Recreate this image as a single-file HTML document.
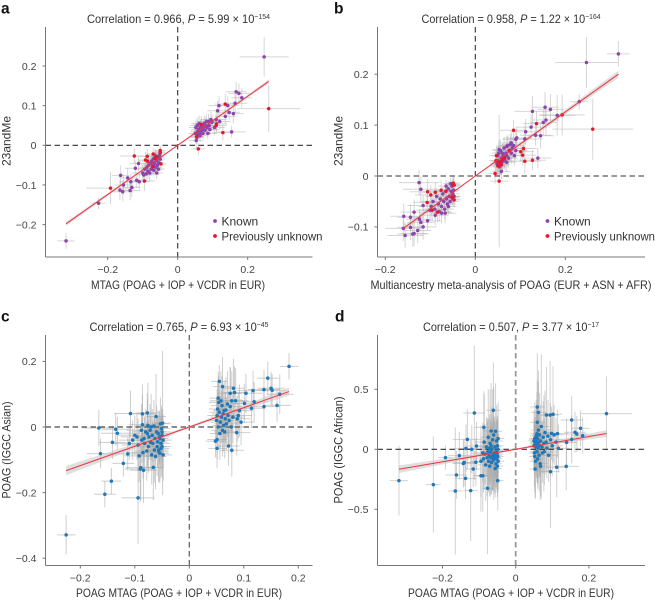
<!DOCTYPE html>
<html lang="en">
<head>
<meta charset="utf-8">
<title>Effect size correlation panels</title>
<style>
html,body{margin:0;padding:0;background:#fff}
svg{display:block;font-family:"Liberation Sans",sans-serif}
text{fill:#333}
</style>
</head>
<body>
<svg id="figure" width="655" height="600" viewBox="0 0 655 600" xmlns="http://www.w3.org/2000/svg">
  <rect width="655" height="600" fill="#fff"/>
  <g id="plots"></g>

  <text x="1" y="13.5" font-size="15.5" font-weight="bold" style="fill:#111">a</text>
  <text x="334" y="13.5" font-size="15.5" font-weight="bold" style="fill:#111">b</text>
  <text x="1" y="321.5" font-size="15.5" font-weight="bold" style="fill:#111">c</text>
  <text x="335" y="321.5" font-size="15.5" font-weight="bold" style="fill:#111">d</text>

  <text x="178.5" y="23" font-size="12" text-anchor="middle" textLength="183" lengthAdjust="spacingAndGlyphs">Correlation = 0.966, <tspan font-style="italic">P</tspan> = 5.99 × 10<tspan dy="-4" font-size="7.5">−154</tspan></text>
  <text x="511" y="23" font-size="12" text-anchor="middle" textLength="179" lengthAdjust="spacingAndGlyphs">Correlation = 0.958, <tspan font-style="italic">P</tspan> = 1.22 × 10<tspan dy="-4" font-size="7.5">−164</tspan></text>
  <text x="179" y="331" font-size="12" text-anchor="middle" textLength="179" lengthAdjust="spacingAndGlyphs">Correlation = 0.765, <tspan font-style="italic">P</tspan> = 6.93 × 10<tspan dy="-4" font-size="7.5">−45</tspan></text>
  <text x="511" y="331" font-size="12" text-anchor="middle" textLength="176" lengthAdjust="spacingAndGlyphs">Correlation = 0.507, <tspan font-style="italic">P</tspan> = 3.77 × 10<tspan dy="-4" font-size="7.5">−17</tspan></text>

  <text x="178" y="289" font-size="12" text-anchor="middle" textLength="174" lengthAdjust="spacingAndGlyphs">MTAG (POAG + IOP + VCDR in EUR)</text>
  <text x="511" y="289" font-size="12" text-anchor="middle" textLength="281" lengthAdjust="spacingAndGlyphs">Multiancestry meta-analysis of POAG (EUR + ASN + AFR)</text>
  <text x="179" y="597" font-size="12" text-anchor="middle" textLength="206" lengthAdjust="spacingAndGlyphs">POAG MTAG (POAG + IOP + VCDR in EUR)</text>
  <text x="511" y="597" font-size="12" text-anchor="middle" textLength="206" lengthAdjust="spacingAndGlyphs">POAG MTAG (POAG + IOP + VCDR in EUR)</text>

  <text transform="translate(10.5 141) rotate(-90)" font-size="12" text-anchor="middle">23andMe</text>
  <text transform="translate(342.5 141) rotate(-90)" font-size="12" text-anchor="middle">23andMe</text>
  <text transform="translate(10.5 450) rotate(-90)" font-size="12" text-anchor="middle" textLength="97" lengthAdjust="spacingAndGlyphs">POAG (IGGC Asian)</text>
  <text transform="translate(342.5 450) rotate(-90)" font-size="12" text-anchor="middle" textLength="107" lengthAdjust="spacingAndGlyphs">POAG (IGGC African)</text>

  <g>
    <circle cx="215" cy="221" r="1.9" fill="#8e44ad"/>
    <text x="221.5" y="225.5" font-size="12">Known</text>
    <circle cx="215" cy="236" r="1.9" fill="#e8182c"/>
    <text x="221.5" y="240.5" font-size="12" textLength="101" lengthAdjust="spacingAndGlyphs">Previously unknown</text>
  </g>
  <g>
    <circle cx="547.5" cy="221" r="1.9" fill="#8e44ad"/>
    <text x="554" y="225.5" font-size="12">Known</text>
    <circle cx="547.5" cy="236" r="1.9" fill="#e8182c"/>
    <text x="554" y="240.5" font-size="12" textLength="101" lengthAdjust="spacingAndGlyphs">Previously unknown</text>
  </g>
</svg>

<script>
// ---------- Panel a ----------
const aKnownX = [
.247,-.319,-.226,.143,.114,.118,.159,.136,.167,.175,
.183,.164,.154,.05,.052,.053,.055,.056,.057,.058,
.06,.061,.062,.064,.065,.067,.068,.07,.072,.074,
.076,.078,.08,.082,.084,.086,.088,.09,.092,.095,
.098,.105,.11,.12,.147,
-.163,-.143,-.165,-.157,-.155,-.136,-.131,-.134,-.117,-.11,
-.121,-.112,-.1,-.097,-.094,-.09,-.088,-.085,-.083,-.08,
-.078,-.076,-.074,-.072,-.07,-.068,-.066,-.064,-.062,-.06,
-.058,-.056,-.054,-.052,-.05,-.05,-.055,-.06,-.065,-.07];
const aKnownY = [
.223,-.241,-.146,.1,.087,.1,.08,.073,.135,.131,
.12,.106,.034,.03,.045,.012,.02,.05,.035,.028,
.04,.055,.03,.024,.045,.036,.05,.04,.03,.046,
.055,.038,.05,.06,.045,.03,.06,.05,.04,.065,
.058,.045,.065,.06,.083,
-.076,-.082,-.113,-.117,-.1,-.114,-.106,-.092,-.088,-.092,
-.058,-.046,-.07,-.075,-.06,-.072,-.055,-.065,-.05,-.07,
-.045,-.06,-.04,-.052,-.035,-.063,-.045,-.028,-.055,-.038,
-.05,-.03,-.044,-.025,-.035,-.02,-.06,-.07,-.025,-.05];
const aKnownXErr = [
.07,.025,.02,.03,.03,.03,.03,.03,.03,.03,
.03,.035,.04,.02,.02,.02,.02,.02,.02,.02,
.022,.022,.022,.022,.022,.022,.024,.024,.024,.024,
.024,.024,.024,.026,.026,.026,.026,.026,.026,.028,
.028,.03,.03,.03,.03,
.025,.025,.025,.03,.025,.03,.025,.03,.03,.03,
.03,.025,.03,.025,.025,.025,.022,.022,.022,.022,
.022,.02,.02,.02,.02,.02,.02,.02,.018,.018,
.018,.018,.015,.015,.015,.015,.018,.018,.018,.02];
const aKnownYErr = [
.05,.02,.015,.025,.025,.025,.025,.02,.025,.025,
.025,.025,.015,.02,.02,.02,.015,.02,.015,.015,
.02,.02,.015,.015,.02,.015,.02,.015,.015,.02,
.02,.015,.02,.02,.015,.015,.02,.02,.015,.02,
.02,.02,.025,.02,.02,
.025,.025,.025,.025,.025,.025,.025,.02,.02,.02,
.02,.02,.02,.02,.015,.02,.015,.02,.015,.02,
.015,.015,.015,.015,.015,.015,.015,.015,.015,.015,
.015,.015,.015,.015,.015,.012,.015,.015,.015,.015];
const aUnknownX = [.26,-.192,-.124,.129,.136,.111,.11,.059,.067,.054,
-.095,-.087,-.092,-.086,-.07,-.05,-.05,-.06,-.048,-.065,-.071];
const aUnknownY = [.0925,-.108,-.027,.032,.104,.054,.05,-.009,.053,.022,
-.09,-.028,-.037,-.04,-.022,-.013,-.017,-.029,-.047,-.033,-.054];
const aUnknownXErr = [.09,.07,.04,.03,.03,.03,.03,.02,.022,.02,
.03,.025,.025,.025,.02,.015,.015,.018,.015,.02,.02];
const aUnknownYErr = [.06,.04,.02,.02,.025,.02,.02,.015,.02,.015,
.025,.02,.02,.02,.015,.012,.012,.015,.015,.015,.015];
const aFitX = [-.319,0,.26];
const aFitY = [-.198,0,.161];
const aFitBand = [.005,.001,.005];
const aXTicks = [-.2,0,.2];
const aYTicks = [-.2,-.1,0,.1,.2];

// ---------- Panel b ----------
const bKnownX = [
.318,.247,.231,.182,.127,.155,.167,.157,.151,.124,
.112,.092,.09,.11,.134,.145,.139,.058,.07,.08,
.05,.052,.054,.056,.058,.06,.062,.064,.066,.068,
.07,.072,.074,.076,.078,.08,.082,.085,.087,.09,
.048,.05,.053,.056,.06,.062,.066,.07,
-.125,-.121,-.159,-.144,-.136,-.144,-.156,-.16,-.139,-.136,
-.128,-.124,-.121,-.116,-.106,-.116,-.101,-.089,-.075,-.067,
-.098,-.094,-.09,-.086,-.082,-.08,-.078,-.075,-.072,-.07,
-.068,-.066,-.064,-.062,-.06,-.058,-.056,-.054,-.052,-.05,
-.05,-.055,-.06,-.065,-.048,-.047];
const bKnownY = [
.24,.223,.146,.119,.127,.135,.131,.11,.105,.096,
.087,.075,.072,.073,.08,.079,.035,.009,.058,.065,
.03,.045,.018,.05,.035,.028,.04,.055,.03,.045,
.04,.06,.035,.05,.062,.045,.055,.06,.04,.05,
.025,.04,.052,.022,.045,.033,.038,.027,
-.013,-.026,-.079,-.081,-.071,-.101,-.117,-.103,-.114,-.113,
-.107,-.085,-.091,-.1,-.088,-.058,-.067,-.077,-.073,-.073,
-.06,-.05,-.065,-.04,-.055,-.07,-.045,-.06,-.035,-.05,
-.065,-.03,-.045,-.055,-.025,-.04,-.05,-.03,-.02,-.035,
-.045,-.015,-.06,-.02,-.028,-.04];
const bKnownXErr = [
.025,.07,.02,.04,.04,.03,.03,.03,.03,.035,
.035,.03,.03,.04,.035,.03,.03,.02,.02,.022,
.015,.015,.015,.016,.016,.016,.018,.018,.018,.018,
.02,.02,.02,.02,.02,.022,.022,.022,.022,.025,
.015,.015,.015,.016,.018,.018,.02,.02,
.045,.04,.03,.03,.03,.03,.04,.04,.035,.03,
.03,.03,.03,.03,.03,.035,.03,.03,.025,.025,
.028,.028,.028,.025,.025,.025,.022,.022,.022,.022,
.02,.02,.02,.02,.018,.018,.018,.016,.016,.015,
.015,.016,.018,.018,.014,.014];
const bKnownYErr = [
.025,.05,.015,.04,.03,.03,.03,.03,.025,.025,
.025,.02,.02,.025,.02,.025,.02,.015,.02,.02,
.02,.02,.02,.02,.018,.018,.02,.02,.018,.02,
.02,.02,.018,.02,.02,.02,.02,.02,.02,.02,
.025,.02,.02,.02,.02,.02,.02,.02,
.025,.025,.025,.025,.025,.025,.025,.025,.025,.025,
.025,.02,.02,.025,.02,.02,.02,.02,.02,.02,
.02,.015,.02,.015,.02,.02,.015,.02,.015,.015,
.02,.015,.015,.015,.015,.015,.015,.015,.012,.015,
.015,.012,.015,.012,.012,.015];
const bUnknownX = [.261,.193,.136,.085,.127,.11,.107,.101,.105,.053,
.044,.046,.05,.052,.055,.058,.06,.047,.065,.075,
-.106,-.099,-.089,-.076,-.107,-.096,-.084,-.049,-.047,-.05,
-.047,-.05,-.052,-.065];
const bUnknownY = [.092,.12,.103,.09,.031,.029,.054,.048,.041,-.01,
.005,.03,.02,.025,.028,.022,.032,.04,.035,.05,
-.031,-.037,-.032,-.028,-.052,-.067,-.071,-.014,-.018,-.04,
-.047,-.017,-.042,-.03];
const bUnknownXErr = [.09,.05,.03,.03,.03,.035,.03,.03,.03,.02,
.015,.016,.016,.016,.018,.018,.018,.016,.02,.022,
.04,.035,.03,.03,.03,.03,.03,.016,.016,.016,
.016,.016,.016,.02];
const bUnknownYErr = [.06,.04,.025,.02,.02,.025,.02,.02,.02,.13,
.02,.02,.02,.02,.02,.02,.02,.02,.02,.02,
.025,.02,.02,.02,.02,.02,.02,.015,.015,.015,
.015,.015,.015,.015];
const bFitX = [-.16,0,.318];
const bFitY = [-.103,0,.2];
const bFitBand = [.005,.001,.007];
const bXTicks = [-.2,0,.2];
const bYTicks = [-.1,0,.1,.2];

// ---------- Panel c ----------
const cX = [
-.226,-.094,-.155,-.143,-.121,-.163,-.166,-.141,-.135,-.132,-.108,-.086,-.077,-.113,-.11,-.104,
-.1,-.096,-.094,-.092,-.09,-.089,-.088,-.087,-.086,-.085,
-.084,-.083,-.082,-.08,-.078,-.077,-.076,-.075,-.074,-.072,
-.071,-.07,-.069,-.068,-.067,-.066,-.065,-.064,-.063,-.062,
-.061,-.06,-.059,-.058,-.057,-.056,-.055,-.054,-.053,-.052,
-.051,-.05,-.05,-.049,-.048,-.048,-.05,-.052,-.054,-.056,
.183,.144,.15,.152,.137,.117,.104,.137,.161,.166,
.119,.114,.101,.055,.061,.081,.075,.083,.053,.078,
.048,.051,.051,.078,.072,.087,.05,.051,.052,.053,
.054,.055,.056,.057,.058,.059,.06,.061,.062,.063,
.064,.065,.066,.067,.068,.07,.071,.073,.075,.077,
.08,.085,.088,.09,.092,.095];
const cY = [
-.329,-.216,-.205,-.165,-.111,-.081,-.003,-.047,-.007,-.019,.041,.04,.043,-.082,-.05,-.04,
-.025,-.03,-.055,-.088,-.128,-.124,-.01,-.04,.007,-.078,
-.132,-.035,-.05,-.015,-.073,-.02,.005,-.06,-.03,-.01,
-.047,.0,-.085,-.025,-.05,-.123,.003,-.07,-.035,-.09,
.032,-.015,-.06,-.045,-.02,-.07,-.03,-.08,.01,-.05,
-.005,-.025,-.06,.012,-.085,-.04,-.015,-.065,-.035,-.075,
.185,.149,.118,.112,.114,.111,.103,.062,.066,.1,
.077,.057,.072,.139,.123,.118,.103,.105,.088,.08,
-.043,-.038,-.065,-.071,-.058,-.017,.02,.035,.055,.0,
.075,.045,-.02,.015,.08,.03,.065,-.01,.04,.005,
.05,-.015,.025,.052,.01,.07,.035,.02,.062,.0,
.03,.08,.025,.035,.05,.015];
const cXErr = [
.017,.03,.02,.018,.02,.025,.03,.025,.025,.03,.03,.025,.02,.025,.03,.025,
.03,.03,.03,.028,.028,.028,.028,.025,.025,.025,
.025,.025,.025,.025,.022,.022,.022,.022,.022,.022,
.02,.02,.02,.02,.02,.02,.02,.02,.02,.02,
.018,.018,.018,.018,.018,.018,.018,.016,.016,.016,
.016,.016,.016,.016,.016,.016,.016,.016,.016,.018,
.017,.02,.025,.025,.03,.03,.03,.03,.025,.025,
.025,.025,.025,.015,.018,.02,.02,.02,.016,.022,
.018,.018,.016,.022,.02,.025,.018,.018,.016,.018,
.018,.018,.018,.018,.02,.02,.02,.02,.02,.02,
.02,.02,.02,.022,.022,.022,.022,.022,.022,.022,
.022,.024,.024,.025,.025,.025];
const cYErr = [
.06,.14,.04,.04,.04,.045,.055,.05,.05,.05,.07,.09,.06,.05,.05,.06,
.06,.07,.08,.08,.1,.1,.08,.07,.09,.08,
.1,.07,.08,.07,.09,.1,.13,.08,.07,.08,
.08,.1,.09,.08,.07,.1,.08,.1,.07,.1,
.13,.08,.09,.08,.07,.1,.08,.09,.08,.08,
.07,.08,.09,.22,.08,.08,.07,.09,.08,.09,
.04,.05,.05,.05,.06,.06,.06,.06,.05,.06,
.06,.06,.06,.05,.09,.09,.08,.08,.08,.09,
.05,.06,.06,.08,.06,.07,.07,.08,.08,.07,
.08,.07,.08,.08,.09,.08,.09,.08,.09,.08,
.09,.08,.08,.1,.08,.1,.09,.08,.12,.08,
.08,.1,.07,.07,.08,.07];
const cFitX = [-.226,0,.183];
const cFitY = [-.133,0,.108];
const cFitBand = [.014,.003,.012];
const cXTicks = [-.2,-.1,0,.1,.2];
const cYTicks = [-.4,-.2,0,.2];

// ---------- Panel d ----------
const dX = [
-.319,-.225,-.192,-.165,-.162,-.123,-.137,-.113,-.132,-.154,
-.141,-.143,-.136,-.12,-.107,-.116,-.109,-.095,-.09,-.077,
-.061,-.087,-.067,-.049,
-.095,-.09,-.088,-.086,-.084,-.082,-.08,-.078,-.076,-.075,
-.074,-.073,-.072,-.071,-.07,-.069,-.068,-.067,-.066,-.065,
-.064,-.063,-.062,-.061,-.06,-.059,-.058,-.057,-.056,-.055,
-.054,-.053,-.052,-.052,-.051,-.05,-.05,-.049,-.049,-.048,
-.048,-.056,-.06,-.052,
.248,.059,.062,.059,.084,.094,.102,.153,.177,.162,
.167,.183,.138,.112,.095,.053,.068,.117,.139,.153,
.114,.098,
.05,.05,.051,.052,.052,.053,.054,.055,.056,.056,
.057,.058,.058,.059,.06,.06,.061,.062,.063,.064,
.065,.066,.067,.068,.07,.072,.073,.075,.077,.078,
.08,.083,.085,.088,.09,.095,.1,.105,.11];
const dY = [
-.261,-.294,-.069,-.347,-.214,-.344,-.242,.303,.083,-.053,
-.11,-.118,.008,0,.028,-.164,-.108,-.22,-.22,-.325,
.325,.183,.153,-.261,
-.1,-.03,-.08,.06,-.04,-.13,.02,-.07,-.02,.1,
-.1,-.05,.01,-.14,.05,-.02,-.07,.03,-.11,.0,
-.06,.08,-.04,-.09,.12,-.03,-.07,.02,-.05,.15,
-.12,-.02,.07,-.08,-.04,.03,-.14,-.06,.0,-.1,
.09,-.16,-.07,-.01,
.297,.353,.308,.225,.286,.286,.292,.244,.175,.142,
.128,.114,-.142,-.15,-.186,-.164,-.142,.008,.058,.083,
.131,.133,
.07,.03,-.03,.09,-.06,.05,-.1,.08,.02,.11,
.06,-.02,.13,.04,-.08,.09,.01,.16,.06,-.05,
.12,.03,-.12,.07,.19,.02,-.03,.1,.05,-.02,
.14,.06,.01,.11,-.05,.08,.03,.12,.06];
const dXErr = [
.025,.02,.02,.02,.03,.02,.03,.03,.04,.03,
.03,.03,.03,.025,.025,.02,.025,.02,.02,.015,
.02,.025,.02,.016,
.025,.025,.025,.025,.022,.022,.022,.022,.022,.022,
.02,.02,.02,.02,.02,.02,.02,.02,.02,.02,
.018,.018,.018,.018,.018,.018,.018,.018,.018,.018,
.016,.016,.016,.016,.016,.016,.016,.016,.016,.016,
.016,.018,.018,.016,
.07,.02,.02,.02,.025,.025,.025,.03,.025,.03,
.03,.03,.035,.03,.025,.016,.02,.03,.03,.035,
.03,.025,
.016,.016,.016,.016,.016,.016,.016,.017,.017,.017,
.017,.018,.018,.018,.018,.018,.019,.019,.02,.02,
.02,.02,.02,.02,.022,.022,.022,.022,.024,.024,
.024,.024,.025,.025,.025,.026,.028,.03,.03];
const dYErr = [
.29,.4,.1,.53,.2,.42,.17,.56,.25,.2,
.2,.2,.2,.2,.2,.15,.2,.3,.3,.55,
.4,.3,.4,.25,
.3,.25,.28,.4,.25,.3,.25,.32,.28,.4,
.26,.3,.28,.25,.45,.27,.3,.25,.27,.35,
.28,.42,.3,.26,.4,.28,.3,.25,.27,.4,
.24,.26,.3,.25,.27,.22,.26,.3,.28,.25,
.3,.24,.35,.28,
.31,.45,.35,.35,.4,.45,.4,.2,.15,.17,
.15,.15,.2,.25,.47,.25,.25,.2,.2,.2,
.2,.22,
.25,.2,.28,.3,.3,.22,.3,.25,.2,.3,
.3,.25,.35,.32,.25,.28,.3,.4,.25,.3,
.35,.25,.3,.3,.6,.22,.25,.3,.4,.28,
.35,.25,.25,.3,.22,.3,.25,.25,.2];
const dFitX = [-.319,0,.248];
const dFitY = [-.166,0,.132];
const dFitBand = [.032,.006,.028];
const dXTicks = [-.2,0,.2];
const dYTicks = [-.5,0,.5];

// ---------- Rendering ----------
const PURPLE = '#8e44ad', RED = '#e8182c', BLUE = '#1f78b8';
const SVG_NS = 'http://www.w3.org/2000/svg';

function make(tag, attrs, parent) {
  const node = document.createElementNS(SVG_NS, tag);
  for (const k in attrs) node.setAttribute(k, attrs[k]);
  parent.appendChild(node);
  return node;
}
function linearScale(v0, p0, pxPerUnit) {
  return v => p0 + (v - v0) * pxPerUnit;
}
function fmt(v) {
  if (Math.abs(v) < 1e-9) return '0';
  return (v < 0 ? '\u2212' : '') + Math.abs(v).toFixed(1);
}

function drawPanel(p) {
  const root = document.getElementById('plots');
  const sx = linearScale(0, p.x0, p.xScale);
  const sy = linearScale(0, p.y0, -p.yScale);
  const g = make('g', {}, root);
  
  

  // error bars
  const errs = make('g', {stroke: p.errColor, 'stroke-width': 1, fill: 'none'}, g);
  
  
  p.series.forEach(s => {
    s.x.forEach((x, i) => {
      const y = s.y[i];
      const h = make('line', {x1: sx(x - s.xe[i]), x2: sx(x + s.xe[i]), y1: sy(y), y2: sy(y)}, errs);
      
      
      const v = make('line', {x1: sx(x), x2: sx(x), y1: sy(y - s.ye[i]), y2: sy(y + s.ye[i])}, errs);
      
      
    });
  });

  // reference lines
  const hRef = make('line', {x1: p.left, x2: p.right, y1: sy(0), y2: sy(0), stroke: p.hColor, 'stroke-width': p.hWidth, 'stroke-dasharray': '5.5 3.5'}, g);
  
  
  const vRef = make('line', {x1: sx(0), x2: sx(0), y1: p.top, y2: p.bottom, stroke: p.vColor, 'stroke-width': p.vWidth, 'stroke-dasharray': '5.5 3.5'}, g);
  
  

  // confidence band
  const upper = p.fitX.map((x, i) => sx(x) + ',' + sy(p.fitY[i] + p.fitBand[i]));
  const lower = p.fitX.map((x, i) => sx(x) + ',' + sy(p.fitY[i] - p.fitBand[i])).reverse();
  const band = make('polygon', {points: upper.concat(lower).join(' '), fill: '#c4c4c4', 'fill-opacity': .55}, g);
  
  

  // points
  p.series.forEach(s => {
    const pts = make('g', {fill: s.color}, g);
    
    
    s.x.forEach((x, i) => {
      const c = make('circle', {cx: sx(x), cy: sy(s.y[i]), r: 1.75}, pts);
      
      
    });
  });

  // fit line
  const fit = make('polyline', {points: p.fitX.map((x, i) => sx(x) + ',' + sy(p.fitY[i])).join(' '), fill: 'none', stroke: '#f2333f', 'stroke-width': 1}, g);
  
  

  // spines
  const spineL = make('line', {x1: p.left, x2: p.left, y1: p.top, y2: p.bottom, stroke: '#777', 'stroke-width': 1}, g);
  
  
  const spineB = make('line', {x1: p.left, x2: p.right, y1: p.bottom, y2: p.bottom, stroke: '#777', 'stroke-width': 1}, g);
  
  

  // ticks
  p.xTicks.forEach(t => {
    const tick = make('line', {x1: sx(t), x2: sx(t), y1: p.bottom, y2: p.bottom + 3, stroke: '#777'}, g);
    
    
    const lab = make('text', {x: sx(t), y: p.bottom + 16, 'text-anchor': 'middle', 'font-size': 10.5, style: 'fill:#444'}, g);
    lab.textContent = fmt(t);
    
    
  });
  p.yTicks.forEach(t => {
    const tick = make('line', {x1: p.left - 3, x2: p.left, y1: sy(t), y2: sy(t), stroke: '#777'}, g);
    
    
    const lab = make('text', {x: p.left - 9, y: sy(t) + 3.8, 'text-anchor': 'end', 'font-size': 10.5, style: 'fill:#444'}, g);
    lab.textContent = fmt(t);
    
    
  });
}

drawPanel({
  id: 'a', x0: 177.7, xScale: 350, y0: 145.3, yScale: 396.5,
  left: 45.5, right: 312.5, top: 27, bottom: 257,
  errColor: 'rgba(175,175,175,.5)', hColor: '#333', hWidth: 1.1, vColor: '#333', vWidth: 1.1,
  xTicks: aXTicks, yTicks: aYTicks, fitX: aFitX, fitY: aFitY, fitBand: aFitBand,
  series: [
    {name: 'known', color: PURPLE, x: aKnownX, y: aKnownY, xe: aKnownXErr, ye: aKnownYErr},
    {name: 'previously-unknown', color: RED, x: aUnknownX, y: aUnknownY, xe: aUnknownXErr, ye: aUnknownYErr}
  ]
});
drawPanel({
  id: 'b', x0: 475.3, xScale: 450, y0: 176, yScale: 509,
  left: 377.5, right: 645, top: 27, bottom: 257,
  errColor: 'rgba(175,175,175,.5)', hColor: '#333', hWidth: 1.1, vColor: '#333', vWidth: 1.1,
  xTicks: bXTicks, yTicks: bYTicks, fitX: bFitX, fitY: bFitY, fitBand: bFitBand,
  series: [
    {name: 'known', color: PURPLE, x: bKnownX, y: bKnownY, xe: bKnownXErr, ye: bKnownYErr},
    {name: 'previously-unknown', color: RED, x: bUnknownX, y: bUnknownY, xe: bUnknownXErr, ye: bUnknownYErr}
  ]
});
drawPanel({
  id: 'c', x0: 189.3, xScale: 545, y0: 427, yScale: 328,
  left: 45.5, right: 312.5, top: 335, bottom: 565.5,
  errColor: 'rgba(165,165,165,.55)', hColor: '#666', hWidth: 1.4, vColor: '#666', vWidth: 1.3,
  xTicks: cXTicks, yTicks: cYTicks, fitX: cFitX, fitY: cFitY, fitBand: cFitBand,
  series: [{name: 'variant', color: BLUE, x: cX, y: cY, xe: cXErr, ye: cYErr}]
});
drawPanel({
  id: 'd', x0: 515.7, xScale: 366, y0: 449.3, yScale: 120,
  left: 377.5, right: 645, top: 335, bottom: 565.5,
  errColor: 'rgba(165,165,165,.5)', hColor: '#333', hWidth: 1.1, vColor: '#999', vWidth: 1.8,
  xTicks: dXTicks, yTicks: dYTicks, fitX: dFitX, fitY: dFitY, fitBand: dFitBand,
  series: [{name: 'variant', color: BLUE, x: dX, y: dY, xe: dXErr, ye: dYErr}]
});
</script>
</body>
</html>
